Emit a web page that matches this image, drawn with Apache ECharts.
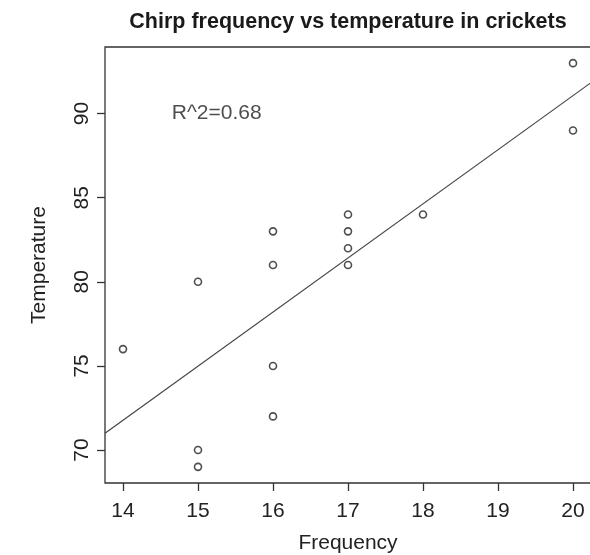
<!DOCTYPE html>
<html>
<head>
<meta charset="utf-8">
<script src="https://cdn.jsdelivr.net/npm/echarts@6/dist/echarts.min.js"></script>
<style>
  html, body { margin: 0; padding: 0; background: #fff; }
  #chart { width: 590px; height: 555px; }
</style>
</head>
<body>
<div id="chart"></div>
<script>
// chirps per second (rounded) and temperature (F)
var frequency = [20, 16, 20, 18, 17, 16, 15, 17, 15, 16, 15, 17, 16, 17, 14];
var temperature = [89, 72, 93, 84, 81, 75, 70, 82, 69, 83, 80, 83, 81, 84, 76];
var xTicks = [14, 15, 16, 17, 18, 19, 20];
var yTicks = [70, 75, 80, 85, 90];
var rSquaredText = "R^2=0.68";
var rSquaredAt = [15.25, 90];

(function () {
  var myChart = echarts.init(document.getElementById("chart"));

  // R style axis range: data range padded by 4% each side
  function pad(arr) {
    var lo = Math.min.apply(null, arr), hi = Math.max.apply(null, arr);
    var d = (hi - lo) * 0.04;
    return [lo - d, hi + d];
  }
  var xr = pad(frequency), yr = pad(temperature);

  // least squares fit
  var n = frequency.length, mx = 0, my = 0;
  for (var i = 0; i < n; i++) { mx += frequency[i]; my += temperature[i]; }
  mx /= n; my /= n;
  var sxx = 0, sxy = 0;
  for (var i = 0; i < n; i++) {
    sxx += (frequency[i] - mx) * (frequency[i] - mx);
    sxy += (frequency[i] - mx) * (temperature[i] - my);
  }
  var slope = sxy / sxx, icept = my - slope * mx;
  var fitLine = [[xr[0], icept + slope * xr[0]], [xr[1], icept + slope * xr[1]]];

  var points = frequency.map(function (f, i) { return [f, temperature[i]]; });

  var font = "Liberation Sans";
  var option = {
    animation: false,
    title: {
      text: "Chirp frequency vs temperature in crickets",
      left: 343, top: 6, textAlign: "center",
      textStyle: { fontFamily: font, fontSize: 21.5, fontWeight: "bold", color: "#1a1a1a" }
    },
    grid: {
      left: 105, right: -1, top: 47, bottom: 72,
      outerBoundsMode: "none",
      show: true, borderColor: "#333", borderWidth: 1.3, backgroundColor: "transparent"
    },
    xAxis: {
      type: "value", min: xr[0], max: xr[1],
      name: "Frequency", nameLocation: "middle", nameGap: 50,
      nameTextStyle: { fontFamily: font, fontSize: 21, color: "#222" },
      axisLine: { show: false },
      axisTick: { show: true, length: 8, customValues: xTicks, lineStyle: { color: "#333", width: 1.3 } },
      axisLabel: { customValues: xTicks, margin: 18, fontFamily: font, fontSize: 21, color: "#222" },
      splitLine: { show: false }
    },
    yAxis: {
      type: "value", min: yr[0], max: yr[1],
      name: "Temperature", nameLocation: "middle", nameGap: 55,
      nameTextStyle: { fontFamily: font, fontSize: 21, color: "#222" },
      axisLine: { show: false },
      axisTick: { show: true, length: 8, customValues: yTicks, lineStyle: { color: "#333", width: 1.3 } },
      axisLabel: { customValues: yTicks, rotate: 90, margin: 12, fontFamily: font, fontSize: 21, color: "#222" },
      splitLine: { show: false }
    },
    series: [
      {
        type: "line",
        data: fitLine,
        symbol: "none",
        lineStyle: { color: "#444", width: 1.2 }
      },
      {
        type: "scatter",
        data: points,
        symbol: "circle",
        symbolSize: 7,
        itemStyle: { color: "#fff", borderColor: "#222", borderWidth: 1.6 }
      },
      {
        type: "scatter",
        data: [rSquaredAt],
        symbolSize: 0,
        label: {
          show: true, position: "inside", formatter: rSquaredText,
          fontFamily: font, fontSize: 21, color: "#222"
        }
      }
    ]
  };

  myChart.setOption(option);
  window.addEventListener("resize", function () {
    myChart.resize();
  });
})();
</script>
</body>
</html>
